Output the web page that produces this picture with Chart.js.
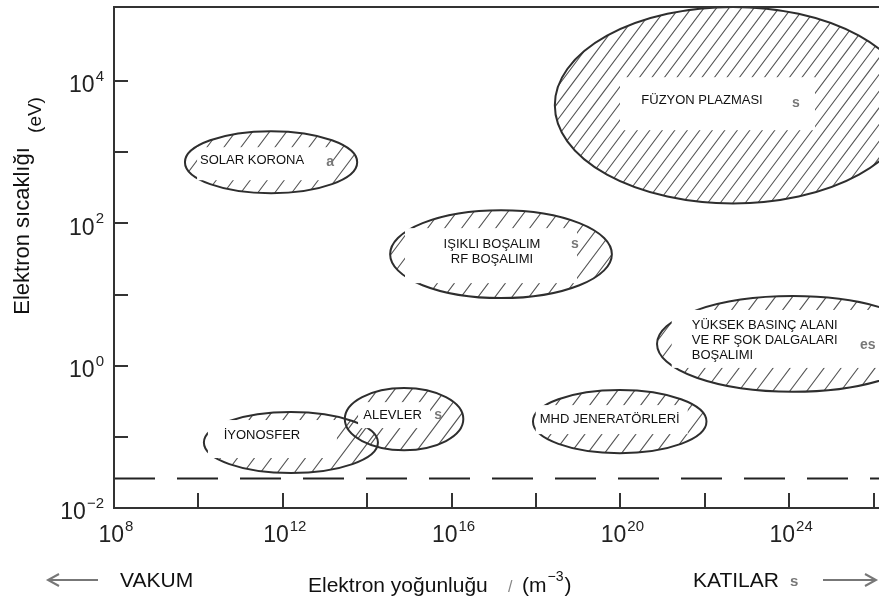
<!DOCTYPE html>
<html>
<head>
<meta charset="utf-8">
<script src="https://cdn.jsdelivr.net/npm/chart.js@4.4.1/dist/chart.umd.min.js"></script>
<style>
  html, body { margin: 0; padding: 0; background: #fff; overflow: hidden; }
  #wrap { width: 879px; height: 602px; position: relative; }
</style>
</head>
<body>
<div id="wrap"><canvas id="plasmaChart"></canvas></div>
<script>
// Plasma regions (electron density m^-3, electron temperature eV)
const regionNames = [
  ['SOLAR KORONA'],
  ['FÜZYON PLAZMASI'],
  ['IŞIKLI BOŞALIM', 'RF BOŞALIMI'],
  ['YÜKSEK BASINÇ ALANI', 'VE RF ŞOK DALGALARI', 'BOŞALIMI'],
  ['İYONOSFER'],
  ['ALEVLER'],
  ['MHD JENERATÖRLERİ']
];
const densityMin = [4.8e9, 2.8e18, 3.5e14, 7.4e20, 1.35e10, 2.95e13, 8.5e17];
const densityMax = [5.8e13, 7.8e26, 6.3e19, 2.0e27, 1.8e14, 1.9e16, 1.1e22];
const tempMin = [265, 190, 8.9, 0.43, 0.031, 0.065, 0.059];
const tempMax = [1970, 1.1e5, 153, 9.5, 0.223, 0.484, 0.454];
const thresholdTemp = 0.026;

const xTickValues = [1e10, 1e12, 1e14, 1e16, 1e18, 1e20, 1e22, 1e24, 1e26];
const yTickValues = [1e-1, 1e0, 1e1, 1e2, 1e3, 1e4];
const xTickLabels = [8, 12, 16, 20, 24];
const yTickLabels = [-2, 0, 2, 4];

const X_MIN = 1e8, X_MAX = Math.pow(10, 26.13);
const Y_MIN = 1e-2, Y_MAX = Math.pow(10, 5.04);

const FONT = '"Liberation Sans", Arial, sans-serif';

// label look per region: text offset from ellipse centre, white patch box, hatch spacing
const labelStyle = [
  { dx: -19, dy: -2, box: [-74, -15, 62, 18], gap: 17, rest: ['a', 59, 0] },
  { dx: -31, dy: -5, box: [-113, -28, 82, 25], gap: 12.5, rest: ['s', 63, -2] },
  { dx: -9, dy: -2, box: [-96, -26, 76, 29], gap: 17, lh: 15, rest: ['s', 74, -10] },
  { dx: -101, dy: -4, box: [-121, -34, 90, 24], gap: 17, lh: 15, align: 'left', rest: ['es', 75, 1] },
  { dx: -29, dy: -7.5, box: [-83, -22.5, 46, 15.5], gap: 17 },
  { dx: -11.5, dy: -4, box: [-46, -17, 26, 9], gap: 17, rest: ['s', 34, -4] },
  { dx: -10, dy: -2.5, box: [-84, -16.5, 68, 12.5], gap: 17 }
];

function ellipsePath(ctx, s) {
  ctx.beginPath();
  ctx.ellipse(s.cx, s.cy, s.rx, s.ry, 0, 0, Math.PI * 2);
}

// Draws the hatched ellipses with their label patches
const regionPlugin = {
  id: 'regions',
  afterDatasetsDraw(chart) {
    const { ctx, chartArea: area, scales: { x, y } } = chart;
    const shapes = regionNames.map((n, i) => {
      const x0 = x.getPixelForValue(densityMin[i]);
      const x1 = x.getPixelForValue(densityMax[i]);
      const y0 = y.getPixelForValue(tempMax[i]);
      const y1 = y.getPixelForValue(tempMin[i]);
      return { cx: (x0 + x1) / 2, cy: (y0 + y1) / 2, rx: (x1 - x0) / 2, ry: (y1 - y0) / 2 };
    });

    ctx.save();
    ctx.beginPath();
    ctx.rect(area.left, area.top, area.right - area.left, area.bottom - area.top);
    ctx.clip();

    // hatching
    shapes.forEach((s, i) => {
      ctx.save();
      ellipsePath(ctx, s);
      ctx.clip();
      ctx.strokeStyle = '#555';
      ctx.lineWidth = 1.1;
      const shift = 2 * s.ry * 0.75;
      ctx.beginPath();
      for (let k = s.cx - s.rx - shift; k <= s.cx + s.rx + shift; k += labelStyle[i].gap) {
        ctx.moveTo(k, s.cy + s.ry);
        ctx.lineTo(k + shift, s.cy - s.ry);
      }
      ctx.stroke();
      ctx.restore();
    });

    // outlines
    shapes.forEach(s => {
      ellipsePath(ctx, s);
      ctx.strokeStyle = '#2e2e2e';
      ctx.lineWidth = 2;
      ctx.stroke();
    });

    // white label patches + text
    shapes.forEach((s, i) => {
      const st = labelStyle[i];
      ctx.fillStyle = '#fff';
      ctx.fillRect(s.cx + st.box[0], s.cy + st.box[1], st.box[2] - st.box[0], st.box[3] - st.box[1]);
      if (st.rest) {
        ctx.fillStyle = '#777';
        ctx.font = 'bold 14px ' + FONT;
        ctx.textAlign = 'center';
        ctx.textBaseline = 'middle';
        ctx.fillText(st.rest[0], s.cx + st.rest[1], s.cy + st.rest[2]);
      }
      const lines = regionNames[i];
      const lh = st.lh || 15;
      ctx.fillStyle = '#111';
      ctx.font = '13px ' + FONT;
      ctx.textAlign = st.align || 'center';
      ctx.textBaseline = 'middle';
      lines.forEach((t, j) => {
        const ty = s.cy + st.dy + (j - (lines.length - 1) / 2) * lh;
        ctx.fillText(t, s.cx + st.dx, ty);
      });
    });
    ctx.restore();
  }
};

// power of ten label: "10" with raised exponent
function drawPower(ctx, exp, px, py, align) {
  const base = '10';
  const sup = exp < 0 ? '\u2212' + Math.abs(exp) : String(exp);
  ctx.font = '23px ' + FONT;
  const wb = ctx.measureText(base).width;
  ctx.font = '15px ' + FONT;
  const ws = ctx.measureText(sup).width;
  const w = wb + ws + 1;
  let left = align === 'right' ? px - w : px - w / 2;
  ctx.fillStyle = '#222';
  ctx.textAlign = 'left';
  ctx.textBaseline = 'middle';
  ctx.font = '23px ' + FONT;
  ctx.fillText(base, left, py);
  ctx.font = '15px ' + FONT;
  ctx.fillText(sup, left + wb + 1, py - 9);
}

function arrow(ctx, xFrom, xTo, yy) {
  const dir = Math.sign(xTo - xFrom);
  ctx.beginPath();
  ctx.moveTo(xFrom, yy);
  ctx.lineTo(xTo, yy);
  ctx.moveTo(xTo - dir * 11, yy - 6);
  ctx.lineTo(xTo, yy);
  ctx.lineTo(xTo - dir * 11, yy + 6);
  ctx.stroke();
}

// frame, inward ticks, tick labels and titles
const axesPlugin = {
  id: 'axesDecor',
  afterDraw(chart) {
    const { ctx, chartArea: area, scales: { x, y } } = chart;
    ctx.save();
    ctx.strokeStyle = '#333';
    ctx.lineWidth = 2;
    ctx.beginPath();
    ctx.moveTo(area.right + 2, area.top);
    ctx.lineTo(area.left, area.top);
    ctx.lineTo(area.left, area.bottom);
    ctx.lineTo(area.right + 2, area.bottom);
    ctx.stroke();

    ctx.beginPath();
    xTickValues.forEach(v => {
      const px = Math.round(x.getPixelForValue(v));
      ctx.moveTo(px, area.bottom);
      ctx.lineTo(px, area.bottom - 15);
    });
    yTickValues.forEach(v => {
      const py = Math.round(y.getPixelForValue(v));
      ctx.moveTo(area.left, py);
      ctx.lineTo(area.left + 14, py);
    });
    ctx.stroke();

    xTickLabels.forEach(e => drawPower(ctx, e, x.getPixelForValue(Math.pow(10, e)) + 2, area.bottom + 28, 'center'));
    yTickLabels.forEach(e => drawPower(ctx, e, area.left - 10, y.getPixelForValue(Math.pow(10, e)) + 5, 'right'));

    // y title
    ctx.fillStyle = '#111';
    ctx.textBaseline = 'middle';
    ctx.textAlign = 'center';
    ctx.save();
    ctx.translate(23, 231);
    ctx.rotate(-Math.PI / 2);
    ctx.font = '22px ' + FONT;
    ctx.fillText('Elektron sıcaklığı', 0, 0);
    ctx.restore();
    ctx.save();
    ctx.translate(36, 115);
    ctx.rotate(-Math.PI / 2);
    ctx.font = '19px ' + FONT;
    ctx.fillText('(eV)', 0, 0);
    ctx.restore();

    // x title
    ctx.textAlign = 'left';
    ctx.font = '21px ' + FONT;
    ctx.fillText('Elektron yoğunluğu', 308, 586);
    ctx.fillText('(m', 522, 586);
    const wm = ctx.measureText('(m').width;
    ctx.font = '14px ' + FONT;
    ctx.fillText('\u22123', 522 + wm + 1, 577);
    const ws = ctx.measureText('\u22123').width;
    ctx.font = '21px ' + FONT;
    ctx.fillText(')', 522 + wm + ws + 2, 586);
    ctx.fillStyle = '#888';
    ctx.font = '16px ' + FONT;
    ctx.fillText('/', 508, 588);

    // vacuum / solids hints
    ctx.fillStyle = '#111';
    ctx.font = '21px ' + FONT;
    ctx.fillText('VAKUM', 120, 581);
    ctx.fillText('KATILAR', 693, 581);
    ctx.fillStyle = '#777';
    ctx.font = 'bold 15px ' + FONT;
    ctx.fillText('s', 790, 582);
    ctx.strokeStyle = '#777';
    ctx.lineWidth = 2;
    arrow(ctx, 98, 48, 580);
    arrow(ctx, 823, 876, 580);
    ctx.restore();
  }
};

new Chart(document.getElementById('plasmaChart'), {
  type: 'scatter',
  data: {
    datasets: [{
      label: 'threshold',
      data: [{ x: X_MIN, y: thresholdTemp }, { x: X_MAX, y: thresholdTemp }],
      showLine: true,
      borderColor: '#222',
      borderWidth: 2,
      borderDash: [41, 22],
      pointRadius: 0
    }]
  },
  options: {
    responsive: true,
    maintainAspectRatio: false,
    animation: false,
    layout: { padding: { top: 7, right: 0, left: 0, bottom: 0 } },
    plugins: { legend: { display: false }, tooltip: { enabled: false } },
    scales: {
      x: {
        type: 'logarithmic', min: X_MIN, max: X_MAX,
        ticks: { display: false },
        grid: { display: false, drawTicks: false },
        border: { display: false },
        afterFit(s) { s.height = 94; }
      },
      y: {
        type: 'logarithmic', min: Y_MIN, max: Y_MAX,
        ticks: { display: false },
        grid: { display: false, drawTicks: false },
        border: { display: false },
        afterFit(s) { s.width = 114; }
      }
    }
  },
  plugins: [regionPlugin, axesPlugin]
});
</script>
</body>
</html>
